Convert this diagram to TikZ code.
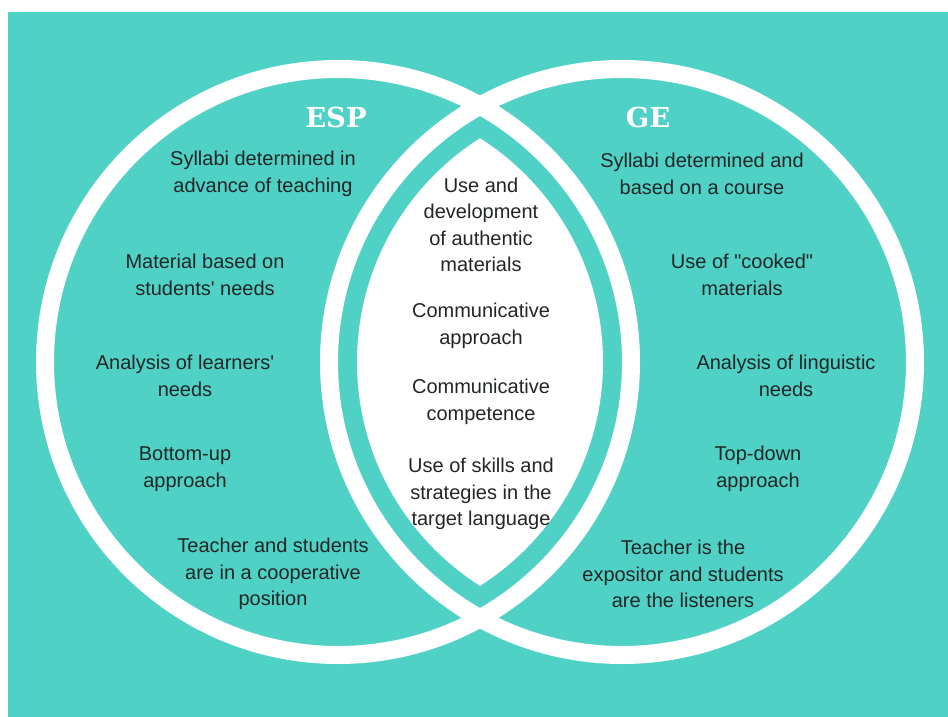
\documentclass[tikz,border=0pt]{standalone}
\usepackage{fontspec}
\setmainfont{Liberation Sans}[Ligatures=TeXOff]
\newfontfamily\titlefont{DejaVu Serif}
\usepackage{tikz}

\definecolor{venn}{RGB}{80,209,198}
\definecolor{ink}{RGB}{34,38,38}

\begin{document}
\begin{tikzpicture}[x=1pt,y=-1pt,
  ring/.style={draw=white,line width=18pt},
  item/.style={align=center,text=ink,font=\fontsize{20}{26.5}\selectfont},
  head/.style={text=white,font=\titlefont\bfseries\fontsize{27.5}{30}\selectfont}]
  \useasboundingbox (0,0) rectangle (948,717);
  \fill[venn] (8,12) rectangle (948,717);

  % the common part, set in from both rings
  \begin{scope}
    \clip (338,362) circle (265pt);
    \fill[white] (622,362) circle (265pt);
  \end{scope}
  \draw[ring] (338,362) circle (293pt);
  \draw[ring] (622,362) circle (293pt);

  \node[head] (esp) at (336,117) {ESP};
  \node[head] (ge) at (648,117) {GE};

  % left side
  \node[item] (esp1) at (263,174) {Syllabi determined in\\advance of teaching};
  \node[item] (esp2) at (205,275) {Material based on\\students' needs};
  \node[item] (esp3) at (185,376) {Analysis of learners'\\needs};
  \node[item] (esp4) at (185,469) {Bottom-up\\approach};
  \node[item] (esp5) at (273,574) {Teacher and students\\are in a cooperative\\position};

  % middle
  \node[item] (both1) at (481,225) {Use and\\development\\of authentic\\materials};
  \node[item] (both2) at (481,326) {Communicative\\approach};
  \node[item] (both3) at (481,402) {Communicative\\competence};
  \node[item] (both4) at (481,494) {Use of skills and\\strategies in the\\target language};

  % right side
  \node[item] (ge1) at (702,174) {Syllabi determined and\\based on a course};
  \node[item] (ge2) at (742,275) {Use of "cooked"\\materials};
  \node[item] (ge3) at (786,376) {Analysis of linguistic\\needs};
  \node[item] (ge4) at (758,469) {Top-down\\approach};
  \node[item] (ge5) at (683,574) {Teacher is the\\expositor and students\\are the listeners};
\end{tikzpicture}
\end{document}
